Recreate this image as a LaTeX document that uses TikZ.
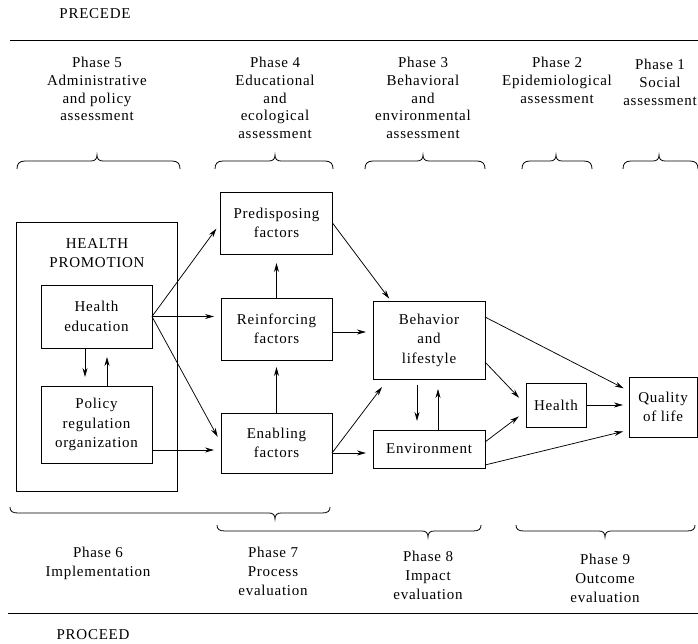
\documentclass[tikz,border=0pt]{standalone}
\usepackage{fontspec}
\setmainfont{Liberation Serif}[LetterSpace=5]
\usetikzlibrary{arrows.meta}
\newcommand\myTopBrace[3]{\draw[bracestyle] (#1,169) .. controls (#1,164) and (#1+2,161) .. (#1+8,161) -- (#3-6,161) .. controls (#3-2,161) and (#3,159) .. (#3,155) .. controls (#3,159) and (#3+2,161) .. (#3+6,161) -- (#2-8,161) .. controls (#2-2,161) and (#2,164) .. (#2,169);}
\newcommand\myBotBrace[4]{\draw[bracestyle] (#1,#4-6) .. controls (#1,#4-2) and (#1+2,#4) .. (#1+8,#4) -- (#3-6,#4) .. controls (#3-2,#4) and (#3,#4+2) .. (#3,#4+6) .. controls (#3,#4+2) and (#3+2,#4) .. (#3+6,#4) -- (#2-8,#4) .. controls (#2-2,#4) and (#2,#4-2) .. (#2,#4-6);}
\begin{document}
\begin{tikzpicture}[x=1pt,y=-1pt,
  every node/.style={inner sep=0pt, outer sep=0pt},
  boxtext/.style={font=\fontsize{15}{19.5}\selectfont, align=center},
  box/.style={boxtext, draw, line width=0.9pt},
  head/.style={font=\fontsize{15}{17.6}\selectfont, align=center, anchor=north},
  foot/.style={font=\fontsize{15}{19}\selectfont, align=center, anchor=north},
  arr/.style={-{Stealth[length=9pt,width=5pt]}, line width=0.75pt, shorten >=7pt},
  bracestyle/.style={line width=0.8pt},
  rule/.style={line width=0.9pt}]
\useasboundingbox (0,0) rectangle (698,643);

% headers
\node[font=\fontsize{15}{17}\selectfont] (precede) at (95,14) {PRECEDE};
\node[font=\fontsize{15}{17}\selectfont] (proceed) at (93,635) {PROCEED};
\draw[rule] (10,40) -- (698,40);
\draw[rule] (8,613) -- (698,613);

\node[head] (p5) at (97,57.5) {Phase 5\\Administrative\\and policy\\assessment};
\node[head] (p4) at (275,57.5) {Phase 4\\Educational\\and\\ecological\\assessment};
\node[head] (p3) at (423,57.5) {Phase 3\\Behavioral\\and\\environmental\\assessment};
\node[head] (p2) at (557,57.5) {Phase 2\\Epidemiological\\assessment};
\node[head] (p1) at (660,59.5) {Phase 1\\Social\\assessment};

\myTopBrace{17}{180}{97}
\myTopBrace{215}{333}{275}
\myTopBrace{365}{485}{423}
\myTopBrace{522}{592}{556}
\myTopBrace{623}{698}{659}

\myBotBrace{10}{330}{275}{513}
\myBotBrace{217}{481}{428}{531}
\myBotBrace{516}{695}{605}{531}

\node[foot] (p6) at (98,547.5) {Phase 6\\Implementation};
\node[foot] (p7) at (273,547.5) {Phase 7\\Process\\evaluation};
\node[foot] (p8) at (428,551.5) {Phase 8\\Impact\\evaluation};
\node[foot] (p9) at (605,554.5) {Phase 9\\Outcome\\evaluation};

% boxes
\node[draw, line width=0.9pt, minimum width=161pt, minimum height=269pt] (hp) at (96.5,356.5) {};
\node[boxtext] (hptext) at (97,253) {HEALTH\\PROMOTION};
\node[box, minimum width=111pt, minimum height=63pt] (he) at (96.5,316.5) {Health\\education};
\node[box, minimum width=111pt, minimum height=77pt] (pro) at (96.5,424.5) {Policy\\regulation\\organization};
\node[box, minimum width=112pt, minimum height=62pt] (pre) at (276.5,223) {Predisposing\\factors};
\node[box, minimum width=111pt, minimum height=62pt] (rei) at (276.5,329) {Reinforcing\\factors};
\node[box, minimum width=111pt, minimum height=60pt] (ena) at (276.5,443) {Enabling\\factors};
\node[box, minimum width=112pt, minimum height=78pt] (beh) at (429,340) {Behavior\\and\\lifestyle};
\node[box, minimum width=112pt, minimum height=38pt] (env) at (429,449) {Environment};
\node[box, minimum width=60pt, minimum height=44pt] (hea) at (556,405) {Health};
\node[box, minimum width=68pt, minimum height=60pt] (qol) at (663,407) {Quality\\of life};

% connectors
\draw[arr] (he.east) -- (pre.west);
\draw[arr] (he.east) -- (he.east -| rei.west);
\draw[arr] (he.east) -- (ena.west);
\draw[arr] ([yshift=-25.5pt]pro.east) -- ([yshift=-7pt]ena.west);
\draw[arr, shorten >=9pt] ([xshift=-11.5pt]he.south) -- ([xshift=-11.5pt]pro.north);
\draw[arr, shorten >=9pt] ([xshift=10.5pt]pro.north) -- ([xshift=10.5pt]he.south);
\draw[arr, shorten >=9pt] (rei.north) -- (pre.south);
\draw[arr] (ena.north) -- (rei.south);
\draw[arr, shorten >=3pt] (pre.east) -- ([xshift=18pt]beh.north west);
\coordinate (r1) at ([yshift=-3pt]rei.east);
\draw[arr] (r1) -- (r1 -| beh.west);
\coordinate (e1) at ([yshift=-10pt]ena.east);
\draw[arr, shorten >=0pt] (e1) -- ([xshift=9pt,yshift=-8pt]beh.south west);
\draw[arr] (e1) -- (e1 -| env.west);
\draw[arr, shorten <=6pt, shorten >=9pt] ([xshift=-12pt]beh.south) -- ([xshift=-12pt]env.north);
\draw[arr, shorten >=10pt] ([xshift=9pt]env.north) -- ([xshift=9pt]beh.south);
\draw[arr, shorten >=10pt] ([yshift=-22pt]beh.east) -- (hea.west);
\draw[arr, shorten >=6pt] ([yshift=23pt]beh.east) -- ([yshift=16pt]qol.west);
\draw[arr, shorten >=9pt] ([yshift=7pt]env.east) -- ([yshift=-6pt]hea.west);
\draw[arr, shorten >=6pt] ([yshift=-16pt]env.east) -- ([yshift=-23pt]qol.west);
\draw[arr, shorten >=6pt] (hea.east) -- (hea.east -| qol.west);
\end{tikzpicture}
\end{document}
